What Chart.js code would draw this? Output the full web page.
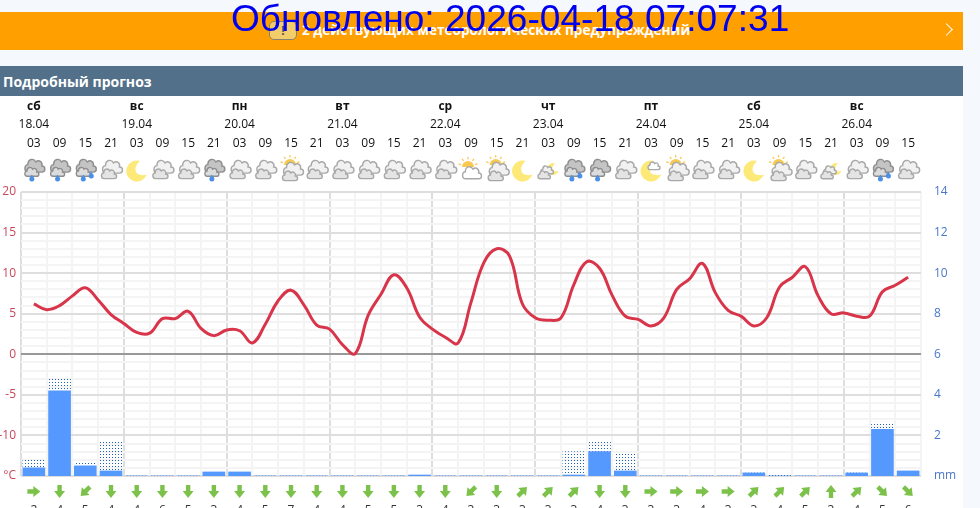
<!DOCTYPE html>
<html lang="ru">
<head>
<meta charset="UTF-8">
<title>Подробный прогноз</title>
<script src="https://cdn.jsdelivr.net/npm/chart.js"></script>
<style>
  html, body { margin: 0; padding: 0; width: 980px; height: 508px; overflow: hidden; background: #f5f8fc; font-family: "Open Sans", sans-serif; }
  #panel { position: absolute; left: 0; top: 96px; width: 963px; height: 412px; background: #fff; }
  #alert { position: absolute; left: 0; top: 12px; width: 963px; height: 38px; background: #ff9f00; color: #fff; font-weight: 700; font-size: 13.6px; line-height: 36px; }
  #alert span { position: absolute; left: 302px; top: 0; white-space: nowrap; }
  #alert i { position: absolute; left: 269px; top: 9px; width: 28px; height: 19px; border: 1.5px solid #8a8270; border-radius: 5px; background: #f3cd6a; box-sizing: border-box; font-style: normal; font-size: 12px; line-height: 17px; text-align: center; color: #555; }
  #alert b { position: absolute; left: 942px; top: 13px; width: 8px; height: 8px; border-top: 1.5px solid #fff; border-right: 1.5px solid #fff; transform: rotate(45deg); }
  #title { position: absolute; left: 0; top: 66px; width: 963px; height: 30px; background: #527089; color: #fff; font-weight: 700; font-size: 14px; line-height: 31px; text-indent: 3px; }
  #updated { position: absolute; left: 231px; top: -4px; font-family: "Liberation Sans", Arial, sans-serif; font-size: 37.1px; line-height: 44px; color: #0000ee; white-space: nowrap; z-index: 5; }
  canvas { position: absolute; left: 0; top: 0; }
</style>
</head>
<body>
<div id="panel"></div>
<div id="alert"><i>!</i><span>2 действующих метеорологических предупреждений</span><b></b></div>
<div id="title">Подробный прогноз</div>
<canvas id="forecast" width="980" height="508"></canvas>
<div id="updated">Обновлено: 2026-04-18 07:07:31</div>
<script>
const hours = ['03','09','15','21','03','09','15','21','03','09','15','21','03','09','15','21','03','09','15','21','03','09','15','21','03','09','15','21','03','09','15','21','03','09','15'];
const dayNames = ['сб','вс','пн','вт','ср','чт','пт','сб','вс'];
const dates = ['18.04','19.04','20.04','21.04','22.04','23.04','24.04','25.04','26.04'];
// temperature every 3 hours, two values per column
const temperature = [6.2,5.5,6.0,7.2,8.2,6.7,4.9,3.8,2.7,2.6,4.4,4.4,5.3,3.2,2.3,3.0,2.9,1.4,3.7,6.6,7.9,6.1,3.6,3.1,1.2,0.1,4.8,7.4,9.8,8.2,4.6,3.1,2.1,1.4,6.4,11.3,13.0,12.1,6.2,4.5,4.2,4.5,8.6,11.4,10.6,7.2,4.7,4.3,3.5,4.5,8.0,9.3,11.2,7.6,5.4,4.7,3.5,4.5,8.3,9.5,10.8,7.2,5.0,5.1,4.7,4.7,7.7,8.5,9.5];
const rain = [0.4,4.2,0.5,0.25,0,0,0,0.2,0.2,0,0,0,0,0,0,0.05,0,0,0,0,0,0.05,1.2,0.25,0,0,0,0,0.15,0,0,0,0.15,2.3,0.25];
const rainPossible = [0.45,0.65,0.2,1.5,0,0,0,0,0,0,0,0,0,0,0,0,0,0,0,0,0,1.15,0.55,0.9,0,0,0,0,0,0.1,0,0,0,0.35,0];
const windDirection = [90,180,225,180,180,180,180,180,180,180,180,180,180,180,180,180,180,225,180,45,45,45,180,180,90,90,90,90,45,45,45,0,45,135,135];
const windSpeed = [2,4,5,4,4,6,5,3,4,5,7,4,4,5,5,3,4,3,3,3,3,3,4,3,3,3,4,3,3,4,5,3,4,5,6];
const weather = ['rain','rain','rain2','cloud','moon','cloud','cloud','rain','cloud','cloud','suncloud','cloud','cloud','cloud','cloud','cloud','cloud','sunwhite','suncloud','moon','mooncloud','rain2','rain','cloud','moonwhite','suncloud','cloud','cloud','moon','suncloud','cloud','mooncloud','cloud','rain2','cloud'];

const ctx = document.getElementById('forecast').getContext('2d');

// dotted fill for the possible precipitation part of a bar
const tile = document.createElement('canvas');
tile.width = 3; tile.height = 3;
const tctx = tile.getContext('2d');
tctx.fillStyle = '#1b62b8';
tctx.fillRect(1, 1, 1, 1);
const dots = ctx.createPattern(tile, 'repeat');

function cloudPath(c, x, y, s) {
    const h = s * 1.35;
    c.beginPath();
    c.moveTo(x - 6.5 * s, y + 4.5 * h);
    c.bezierCurveTo(x - 11 * s, y + 4.5 * h, x - 11 * s, y - 1 * h, x - 7 * s, y - 1 * h);
    c.bezierCurveTo(x - 7 * s, y - 5.5 * h, x - 1 * s, y - 6 * h, x + 1 * s, y - 3 * h);
    c.bezierCurveTo(x + 4 * s, y - 5 * h, x + 8 * s, y - 3 * h, x + 7 * s, y);
    c.bezierCurveTo(x + 11 * s, y, x + 11 * s, y + 4.5 * h, x + 7 * s, y + 4.5 * h);
    c.closePath();
}
function cloud(c, x, y, s, fill, stroke) {
    cloudPath(c, x, y, s);
    c.fillStyle = fill;
    c.strokeStyle = stroke;
    c.lineWidth = 1.4;
    c.fill();
    c.stroke();
}
function doubleCloud(c, x, y) {
    cloud(c, x + 1.5, y - 3, 1, '#f1f1f1', '#a8a8a8');
    cloud(c, x - 2, y + 4, 0.76, '#e4e4e4', '#a8a8a8');
}
function moon(c, x, y, r) {
    c.beginPath();
    c.arc(x, y, r, 0.35 * Math.PI, 1.6 * Math.PI);
    c.bezierCurveTo(x - r * 0.5, y - r * 0.2, x - r * 0.1, y + r * 0.6, x + r * 0.95, y + r * 0.35);
    c.bezierCurveTo(x + r * 0.7, y + r * 0.8, x + r * 0.4, y + r * 0.95, x + r * 0.3, y + r * 0.95);
    c.closePath();
    c.fillStyle = '#fde978';
    c.fill();
}
function sun(c, x, y) {
    c.beginPath();
    c.arc(x, y, 6, Math.PI, 2 * Math.PI);
    c.fillStyle = '#f8c850';
    c.fill();
    c.strokeStyle = '#f8c850';
    c.lineWidth = 1.2;
    for (let a = 1.1; a < 2; a += 0.2) {
        c.beginPath();
        c.moveTo(x + Math.cos(a * Math.PI) * 7.5, y + Math.sin(a * Math.PI) * 7.5);
        c.lineTo(x + Math.cos(a * Math.PI) * 10, y + Math.sin(a * Math.PI) * 10);
        c.stroke();
    }
}
function drop(c, x, y) {
    c.beginPath();
    c.arc(x, y, 2.5, 0, 2 * Math.PI);
    c.moveTo(x - 2, y - 1);
    c.lineTo(x, y - 4.5);
    c.lineTo(x + 2, y - 1);
    c.fillStyle = '#4a90e8';
    c.fill();
}
function drawIcon(c, kind, x, y) {
    if (kind === 'rain' || kind === 'rain2') {
        cloud(c, x + 1, y - 5, 1, '#c4c4c4', '#8e8e8e');
        cloud(c, x - 2, y + 1, 0.7, '#dcdcdc', '#8e8e8e');
        drop(c, x - 2, y + 8);
        if (kind === 'rain2') drop(c, x + 6, y + 5);
    } else if (kind === 'cloud') {
        doubleCloud(c, x, y - 1);
    } else if (kind === 'moon') {
        moon(c, x, y, 10.5);
    } else if (kind === 'suncloud') {
        sun(c, x - 1, y - 6);
        doubleCloud(c, x + 1, y + 1);
    } else if (kind === 'sunwhite') {
        sun(c, x - 3, y - 4);
        cloud(c, x + 1, y + 2, 0.95, '#fff', '#a8a8a8');
    } else if (kind === 'mooncloud') {
        moon(c, x + 5, y - 2, 6);
        cloud(c, x - 1, y - 1, 0.62, '#f1f1f1', '#a8a8a8');
        cloud(c, x - 4, y + 4, 0.62, '#e4e4e4', '#a8a8a8');
    } else if (kind === 'moonwhite') {
        moon(c, x, y, 10.5);
        cloud(c, x + 3, y - 5, 0.6, '#fff', '#a8a8a8');
    }
}
function drawArrow(c, x, y, deg) {
    c.save();
    c.translate(x, y);
    c.rotate(deg * Math.PI / 180);
    c.fillStyle = '#7cc24a';
    c.beginPath();
    c.moveTo(0, -6.5);
    c.lineTo(5.5, 0.5);
    c.lineTo(2.2, 0.5);
    c.lineTo(2.2, 6.5);
    c.lineTo(-2.2, 6.5);
    c.lineTo(-2.2, 0.5);
    c.lineTo(-5.5, 0.5);
    c.closePath();
    c.fill();
    c.restore();
}

// rows above and below the plot, placed on the x scale
const forecastRows = {
    id: 'forecastRows',
    afterDraw(chart) {
        const c = chart.ctx;
        const x = chart.scales.x;
        c.save();
        c.textAlign = 'center';
        c.textBaseline = 'middle';
        c.fillStyle = '#111';
        dayNames.forEach((name, i) => {
            const px = x.getPixelForValue(i * 4);
            c.font = '700 12px "Open Sans"';
            c.fillText(name, px, 106.5);
            c.font = '12px "Open Sans"';
            c.fillText(dates[i], px, 124.5);
        });
        weather.forEach((kind, i) => drawIcon(c, kind, x.getPixelForValue(i), 171));
        windDirection.forEach((deg, i) => drawArrow(c, x.getPixelForValue(i), 491.5, deg));
        c.font = '12px "Open Sans"';
        c.fillStyle = '#333';
        windSpeed.forEach((v, i) => c.fillText(v, x.getPixelForValue(i), 511));
        c.restore();
    }
};

new Chart(ctx, {
    data: {
        labels: hours.map((h, i) => i),
        datasets: [{
            type: 'line',
            // half steps between the category columns, so no parsing here
            parsing: false,
            data: temperature.map((t, i) => ({x: i / 2, y: t})),
            yAxisID: 'y',
            borderColor: '#d8344a',
            borderWidth: 3,
            tension: 0.4,
            pointRadius: 0,
            order: 0
        }, {
            type: 'bar',
            data: rain,
            yAxisID: 'y2',
            backgroundColor: '#5599ff',
            barThickness: 22,
            order: 1
        }, {
            type: 'bar',
            data: rainPossible,
            yAxisID: 'y2',
            backgroundColor: dots,
            barThickness: 22,
            order: 1
        }]
    },
    options: {
        responsive: false,
        animation: false,
        layout: {padding: {bottom: 32}},
        plugins: {legend: {display: false}, tooltip: {enabled: false}},
        scales: {
            x: {
                type: 'category',
                position: 'top',
                stacked: true,
                offset: true,
                afterFit: s => { s.height = 192; s.paddingLeft = 0; s.paddingRight = 0; },
                ticks: {
                    autoSkip: false,
                    maxRotation: 0,
                    padding: 41,
                    color: '#111',
                    font: {family: '"Open Sans"', size: 12},
                    callback: (v, i) => hours[i]
                },
                border: {display: false},
                grid: {
                    offset: true,
                    drawTicks: false,
                    lineWidth: 2,
                    color: c => (c.index % 4 === 0 || c.index === hours.length) ? '#dedede' : '#f4f4f4'
                }
            },
            y: {
                position: 'left',
                min: -15,
                max: 20,
                afterFit: s => { s.width = 21; },
                ticks: {
                    stepSize: 1,
                    autoSkip: false,
                    padding: 5,
                    color: '#c8485a',
                    font: {family: '"Open Sans"', size: 12},
                    callback: v => v === -15 ? '°C' : (v % 5 === 0 ? v : '')
                },
                border: {display: false},
                grid: {
                    drawTicks: false,
                    lineWidth: 2,
                    color: c => c.tick.value === 0 ? '#999999' : (c.tick.value % 5 === 0 ? '#dedede' : '#f4f4f4')
                }
            },
            y2: {
                position: 'right',
                min: 0,
                max: 14,
                stacked: true,
                afterFit: s => { s.width = 59; },
                ticks: {
                    stepSize: 2,
                    padding: 13,
                    color: '#4a78c8',
                    font: {family: '"Open Sans"', size: 12},
                    callback: v => v === 0 ? 'mm' : v
                },
                border: {display: false},
                grid: {display: false, drawTicks: false}
            }
        }
    },
    plugins: [forecastRows]
});
</script>
</body>
</html>
